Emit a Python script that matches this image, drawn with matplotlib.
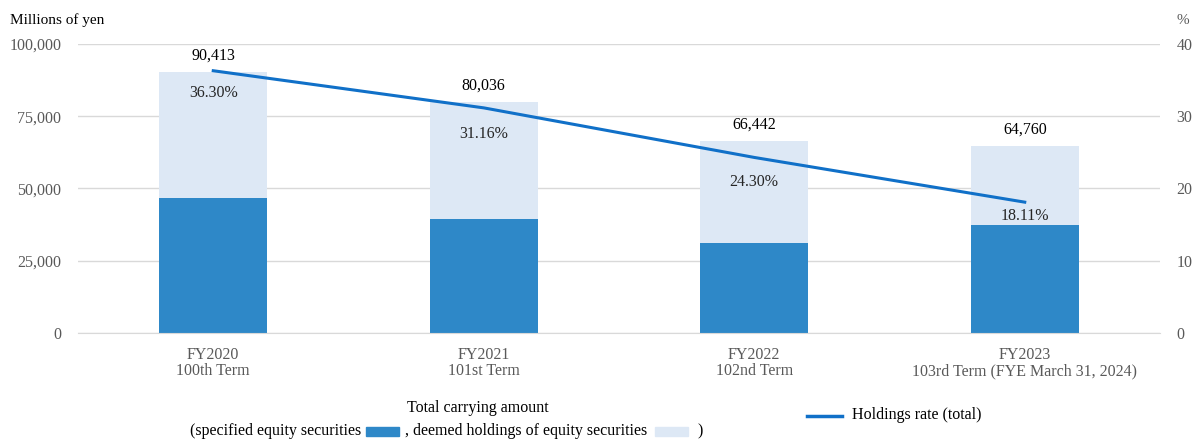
import matplotlib.pyplot as plt
from matplotlib.patches import Rectangle
from matplotlib.lines import Line2D
from matplotlib.ticker import FuncFormatter

categories = ["FY2020\n100th Term", "FY2021\n101st Term", "FY2022\n102nd Term",
              "FY2023\n103rd Term (FYE March 31, 2024)"]
totals = [90413, 80036, 66442, 64760]
specified = [46700, 39400, 31100, 37400]
deemed = [t - s for t, s in zip(totals, specified)]
rates = [36.30, 31.16, 24.30, 18.11]

# vertical offset (points) of the rate labels under the line
rate_label_offsets = [-10, -13, -12, -4]

DARK = "#2E88C8"
LIGHT = "#DDE8F5"
LINE = "#1070C8"
GREY = "#595959"

plt.rcParams["font.family"] = ["Liberation Serif", "DejaVu Serif"]

fig = plt.figure(figsize=(11.95, 4.4), dpi=100)
ax = fig.add_axes([78 / 1195, 1 - 333 / 440, (1160 - 78) / 1195, (333 - 44) / 440])
x = list(range(len(categories)))

ax.bar(x, specified, width=0.4, color=DARK, zorder=2)
ax.bar(x, deemed, width=0.4, bottom=specified, color=LIGHT, zorder=2)
ax.set_xlim(-0.5, 3.5)
ax.set_ylim(0, 100000)
ax.set_yticks([0, 25000, 50000, 75000, 100000])
ax.yaxis.set_major_formatter(FuncFormatter(lambda v, p: f"{int(v):,}"))
ax.grid(axis="y", color="#D9D9D9", linewidth=1, zorder=0)
ax.set_xticks(x)
ax.set_xticklabels(categories, fontsize=11.5, color=GREY, linespacing=1.05)
for s in ax.spines.values():
    s.set_visible(False)
ax.spines["bottom"].set_visible(True)
ax.spines["bottom"].set_color("#D9D9D9")
ax.tick_params(axis="both", length=0, labelsize=11.5, labelcolor=GREY)
ax.tick_params(axis="y", pad=12)
ax.tick_params(axis="x", pad=10)

for xi, t in zip(x, totals):
    ax.annotate(f"{t:,}", (xi, t), xytext=(0, 6), textcoords="offset points",
                ha="center", va="bottom", fontsize=11.5, color="black")

ax2 = ax.twinx()
ax2.set_ylim(0, 40)
ax2.set_yticks([0, 10, 20, 30, 40])
for s in ax2.spines.values():
    s.set_visible(False)
ax2.tick_params(axis="y", length=0, labelsize=11.5, labelcolor=GREY, pad=12)
ax2.plot(x, rates, color=LINE, linewidth=2.2, zorder=3)
for xi, r, off in zip(x, rates, rate_label_offsets):
    ax2.annotate(f"{r:.2f}%", (xi, r), xytext=(0, off), textcoords="offset points",
                 ha="center", va="top", fontsize=11.5, color="#262626")

fig.text(10 / 1195, 1 - 20 / 440, "Millions of yen", fontsize=11, color="black",
         va="center", ha="left")
fig.text(1183 / 1195, 1 - 20 / 440, "%", fontsize=11, color=GREY, va="center", ha="center")

# legend drawn in figure coordinates
fig.text(478 / 1195, 1 - 408 / 440, "Total carrying amount", fontsize=11.5,
         ha="center", va="center")
fig.text(190 / 1195, 1 - 431 / 440, "(specified equity securities", fontsize=11.5,
         ha="left", va="center")
fig.patches.append(Rectangle((366 / 1195, 1 - 436 / 440), 33 / 1195, 9 / 440,
                             transform=fig.transFigure, color=DARK))
fig.text(405 / 1195, 1 - 431 / 440, ", deemed holdings of equity securities",
         fontsize=11.5, ha="left", va="center")
fig.patches.append(Rectangle((655 / 1195, 1 - 436 / 440), 33 / 1195, 9 / 440,
                             transform=fig.transFigure, color=LIGHT))
fig.text(697 / 1195, 1 - 431 / 440, ")", fontsize=11.5, ha="left", va="center")
fig.lines.append(Line2D([807 / 1195, 842 / 1195], [1 - 416 / 440, 1 - 416 / 440],
                        transform=fig.transFigure, color=LINE, linewidth=2.5))
fig.text(852 / 1195, 1 - 415 / 440, "Holdings rate (total)", fontsize=11.5,
         ha="left", va="center")

fig.savefig("out.png", dpi=100)
